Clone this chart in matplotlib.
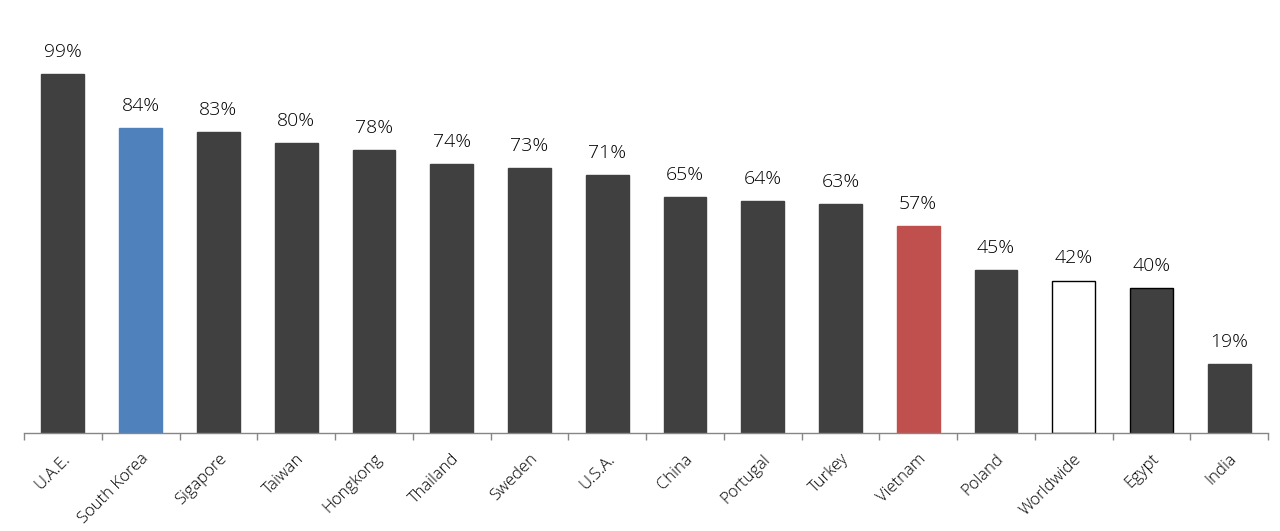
import matplotlib
matplotlib.use("Agg")
import matplotlib.pyplot as plt
from matplotlib.ticker import FixedLocator

plt.rcParams['font.family'] = ['Open Sans', 'DejaVu Sans']

countries = ["U.A.E.", "South Korea", "Sigapore", "Taiwan", "Hongkong", "Thailand",
             "Sweden", "U.S.A.", "China", "Portugal", "Turkey", "Vietnam",
             "Poland", "Worldwide", "Egypt", "India"]
values = [99, 84, 83, 80, 78, 74, 73, 71, 65, 64, 63, 57, 45, 42, 40, 19]

dark = "#404040"
face = [dark] * len(countries)
face[1] = "#4F81BD"
face[11] = "#C0504D"
face[13] = "#FFFFFF"
edge = list(face)
edge[13] = "#000000"
edge[14] = "#000000"

fig = plt.figure(figsize=(12.8, 5.31), dpi=100)
ax = fig.add_axes([0.01875, 0.1846, 0.9719, 0.8154])
x = list(range(len(countries)))
bars = ax.bar(x, values, width=0.55, color=face, edgecolor=edge, linewidth=1.0)

for xi, v in zip(x, values):
    ax.text(xi, v + 3.6, f"{v}%", ha="center", va="bottom", fontsize=14,
            fontweight="light", color="#000000")

ax.set_xlim(-0.5, len(countries) - 0.5)
ax.set_ylim(0, 119.3)
for s in ["top", "right", "left"]:
    ax.spines[s].set_visible(False)
ax.spines["bottom"].set_color("#868686")
ax.spines["bottom"].set_linewidth(1.0)
ax.set_yticks([])

ax.xaxis.set_major_locator(FixedLocator([i - 0.5 for i in range(len(countries) + 1)]))
ax.tick_params(axis="x", which="major", length=5, color="#868686", width=1.0, labelbottom=False)
ax.set_xticks(x, minor=True)
ax.set_xticklabels(countries, minor=True, rotation=45, ha="right", rotation_mode="anchor",
                   fontsize=12, fontweight="light", color="#000000")
ax.tick_params(axis="x", which="minor", length=0, pad=13)

fig.savefig("out.png", dpi=100)
